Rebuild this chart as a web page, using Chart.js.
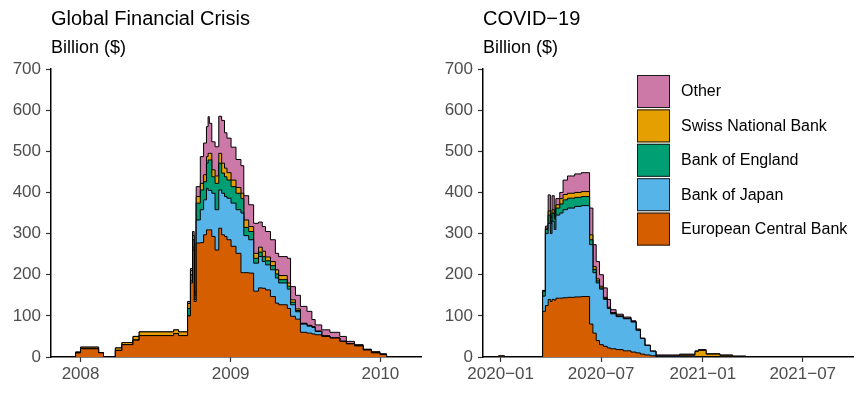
<!DOCTYPE html>
<html>
<head>
<meta charset="utf-8">
<script src="https://cdn.jsdelivr.net/npm/chart.js@4"></script>
<style>
  body { margin: 0; background: #ffffff; width: 864px; height: 396px; position: relative; overflow: hidden; font-family: "Liberation Sans", Arial, sans-serif; }
  .panel { position: absolute; top: 0; width: 432px; height: 396px; }
  .panel canvas { position: absolute; left: 0; top: 0; }
  .title { position: absolute; left: 51px; top: 8px; font-size: 20px; line-height: 20px; color: #000; white-space: nowrap; }
  .unit { position: absolute; left: 51px; top: 38px; font-size: 18px; line-height: 18px; color: #000; white-space: nowrap; }
</style>
</head>
<body>
<div class="panel" style="left:0px">
  <canvas id="gfcChart" width="432" height="396"></canvas>
  <div class="title">Global Financial Crisis</div>
  <div class="unit">Billion ($)</div>
</div>
<div class="panel" style="left:432px">
  <canvas id="covidChart" width="432" height="396"></canvas>
  <div class="title">COVID−19</div>
  <div class="unit">Billion ($)</div>
</div>

<script>
// Stack order bottom -> top
const seriesNames = ['European Central Bank', 'Bank of Japan', 'Bank of England', 'Swiss National Bank', 'Other'];
const seriesColours = ['#D55E00', '#56B4E9', '#009E73', '#E69F00', '#CC79A7'];

// Global Financial Crisis, billions of dollars outstanding
const gfcDates = ['2007-12-19', '2007-12-20', '2008-01-01', '2008-02-14', '2008-02-26', '2008-03-26', '2008-04-11', '2008-05-08', '2008-05-23', '2008-08-15', '2008-08-27',
  '2008-09-18', '2008-09-25', '2008-09-30', '2008-10-04', '2008-10-09', '2008-10-19', '2008-10-27', '2008-11-03', '2008-11-07', '2008-11-10',
  '2008-11-16', '2008-11-24', '2008-12-03', '2008-12-10', '2008-12-17', '2008-12-23', '2009-01-02', '2009-01-14', '2009-01-26', '2009-02-02',
  '2009-02-14', '2009-02-26', '2009-03-10', '2009-03-19', '2009-03-27', '2009-04-08', '2009-04-20', '2009-04-28', '2009-05-19', '2009-05-27',
  '2009-06-08', '2009-06-20', '2009-07-06', '2009-07-18', '2009-07-26', '2009-08-11', '2009-08-31', '2009-09-24', '2009-10-10', '2009-10-30',
  '2009-11-20', '2009-12-10', '2009-12-31', '2010-01-16'];
const gfcECB = [0, 10, 20, 10, 0, 16, 30, 41, 52, 57, 52,
  100, 180, 260, 135, 277, 278, 297, 309, 309, 309,
  293, 260, 313, 297, 293, 285, 269, 252, 205, 205,
  204, 160, 168, 167, 163, 147, 131, 127, 118, 99,
  92, 60, 58, 56, 54, 50, 46, 38, 32, 27,
  17, 10, 6, 0];
const gfcBoJ = [0, 0, 0, 0, 0, 0, 0, 0, 0, 0, 0,
  0, 5, 5, 5, 56, 80, 85, 101, 96, 96,
  105, 98, 93, 101, 97, 101, 105, 106, 145, 90,
  81, 68, 76, 65, 61, 65, 61, 53, 47, 28,
  18, 20, 17, 16, 8, 1, 0, 0, 0, 0,
  0, 0, 0, 0];
const gfcBoE = [0, 0, 0, 0, 0, 0, 0, 0, 0, 0, 0,
  18, 15, 20, 10, 41, 48, 44, 61, 74, 74,
  40, 64, 65, 49, 48, 44, 40, 40, 35, 20,
  20, 12, 11, 12, 10, 10, 10, 8, 7, 6,
  3, 1, 1, 1, 0.5, 0, 0, 0, 0, 0,
  0, 0, 0, 0];
const gfcSNB = [0, 2, 4, 0, 0, 6, 5, 9, 9, 9, 9,
  12, 10, 10, 5, 16, 16, 17, 16, 16, 16,
  17, 18, 24, 24, 21, 18, 16, 14, 13, 18,
  12, 12, 12, 13, 9, 10, 10, 10, 8, 6,
  4, 1, 1, 1, 0.5, 0, 0, 0, 0, 0,
  0, 0, 0, 0];
const gfcOther = [0, 0, 0, 0, 0, 0, 0, 0, 0, 0, 0,
  5, 5, 10, 5, 24, 65, 77, 73, 89, 73,
  68, 71, 90, 104, 86, 84, 80, 68, 67, 59,
  53, 73, 61, 60, 62, 53, 40, 46, 60, 32,
  33, 41, 34, 17, 15, 15, 14, 12, 6, 3,
  2, 3, 2, 0];
const gfcRange = ['2007-10-21', '2010-04-10'];
const gfcTickDates = ['2008-01-01', '2009-01-01', '2010-01-01'];
const gfcTickLabels = ['2008', '2009', '2010'];

// COVID-19
const covidDates = ['2019-12-28', '2020-01-08', '2020-03-17', '2020-03-22', '2020-03-27', '2020-03-31', '2020-04-03', '2020-04-07', '2020-04-10', '2020-04-17',
  '2020-04-23', '2020-05-01', '2020-05-14', '2020-05-26', '2020-06-10', '2020-06-16', '2020-06-22', '2020-06-28', '2020-07-05', '2020-07-12',
  '2020-07-18', '2020-07-28', '2020-08-10', '2020-08-24', '2020-09-02', '2020-09-10', '2020-09-18', '2020-09-28', '2020-10-08', '2020-11-20',
  '2020-12-18', '2020-12-24', '2021-01-07', '2021-02-01', '2021-02-24', '2021-03-20'];
const covidECB = [2, 0, 111, 125, 140, 135, 140, 138, 143, 143,
  144, 145, 146, 147, 80, 58, 40, 30, 26, 22,
  20, 18, 15, 12, 10, 7, 5, 3, 0, 0,
  0, 0, 0, 0, 0, 0];
const covidBoJ = [0, 0, 37, 175, 185, 165, 190, 172, 202, 207,
  214, 217, 220, 221, 193, 147, 140, 135, 114, 96,
  85, 80, 78, 73, 55, 38, 23, 11, 2, 2,
  1, 1, 1, 0, 0, 0];
const covidBoE = [0, 0, 12, 10, 20, 25, 20, 25, 17, 22,
  24, 24, 22, 22, 12, 8, 5, 3, 2, 1,
  1, 1, 0, 0, 0, 0, 0, 0, 0, 0,
  0, 0, 0, 0, 0, 0];
const covidSNB = [0, 0, 0, 3, 10, 5, 8, 5, 8, 13,
  13, 12, 12, 12, 12, 7, 5, 4, 3, 2,
  2, 1, 1, 1, 1, 0, 0, 0, 0, 3,
  12, 15, 6, 4, 2, 0];
const covidOther = [0, 0, 2, 5, 39, 10, 34, 10, 15, 15,
  35, 42, 45, 46, 65, 53, 42, 28, 23, 19,
  7, 4, 3, 2, 2, 1, 1, 0, 3, 2,
  2, 2, 1, 1, 0, 0];
const covidRange = ['2019-11-30', '2021-09-30'];
const covidTickDates = ['2020-01-01', '2020-07-01', '2021-01-01', '2021-07-01'];
const covidTickLabels = ['2020−01', '2020−07', '2021−01', '2021−07'];

const yMax = 700;
const yStep = 100;

Chart.defaults.font.family = '"Liberation Sans", Arial, sans-serif';

function toDay(s)
{
  return Date.parse(s) / 86400000;
}

// legend drawn inside the plot area, top item = top of stack
const keyBox = {
  id: 'keyBox',
  afterDraw(chart)
  {
    const ctx = chart.ctx;
    const left = chart.chartArea.left + 154;
    let top = chart.chartArea.top + 6;
    ctx.save();
    ctx.font = '16px "Liberation Sans", Arial, sans-serif';
    ctx.textBaseline = 'middle';
    for (let i = chart.data.datasets.length - 1; i >= 0; i--)
    {
      const ds = chart.data.datasets[i];
      ctx.fillStyle = ds.backgroundColor;
      ctx.fillRect(left, top, 33, 33);
      ctx.strokeStyle = '#1a1a1a';
      ctx.lineWidth = 1;
      ctx.strokeRect(left + 0.5, top + 0.5, 32, 32);
      ctx.fillStyle = '#000000';
      ctx.fillText(ds.label, left + 44, top + 17);
      top += 34.4;
    }
    ctx.restore();
  }
};

function generateGraph(id, dates, series, range, tickDates, tickLabels, withKey)
{
  const xs = dates.map(toDay);

  const data = {
    datasets: series.map((values, i) => ({
      label: seriesNames[i],
      data: values.map((v, j) => ({ x: xs[j], y: v })),
      backgroundColor: seriesColours[i],
      borderColor: '#000000',
      borderWidth: 1,
      fill: i === 0 ? 'origin' : '-1',
      stepped: true,
      pointRadius: 0,
      pointHitRadius: 0
    }))
  };

  const config = {
    type: 'line',
    data: data,
    plugins: withKey ? [keyBox] : [],
    options: {
      responsive: false,
      animation: false,
      events: [],
      layout: { padding: { top: 69, right: 11, bottom: 0, left: 0 } },
      plugins: { legend: { display: false }, tooltip: { enabled: false } },
      scales: {
        x: {
          type: 'linear',
          min: toDay(range[0]),
          max: toDay(range[1]),
          afterBuildTicks: (s) => { s.ticks = tickDates.map(d => ({ value: toDay(d) })); },
          afterFit: (s) => { s.height = 39; },
          ticks: {
            autoSkip: false,
            maxRotation: 0,
            padding: 2,
            color: '#4D4D4D',
            font: { size: 17 },
            callback: (v, i) => tickLabels[i]
          },
          grid: { drawOnChartArea: false, tickLength: 5, tickWidth: 1.2, color: '#333333' },
          border: { display: true, color: '#000000', width: 1.5 }
        },
        y: {
          stacked: true,
          min: 0,
          max: yMax,
          afterFit: (s) => { s.width = 51; },
          ticks: { stepSize: yStep, padding: 5, color: '#4D4D4D', font: { size: 17 } },
          grid: { drawOnChartArea: false, tickLength: 5, tickWidth: 1.2, color: '#333333' },
          border: { display: true, color: '#000000', width: 1.5 }
        }
      }
    }
  };

  return new Chart(document.getElementById(id), config);
}

generateGraph('gfcChart', gfcDates, [gfcECB, gfcBoJ, gfcBoE, gfcSNB, gfcOther],
  gfcRange, gfcTickDates, gfcTickLabels, false);
generateGraph('covidChart', covidDates, [covidECB, covidBoJ, covidBoE, covidSNB, covidOther],
  covidRange, covidTickDates, covidTickLabels, true);
</script>
</body>
</html>
